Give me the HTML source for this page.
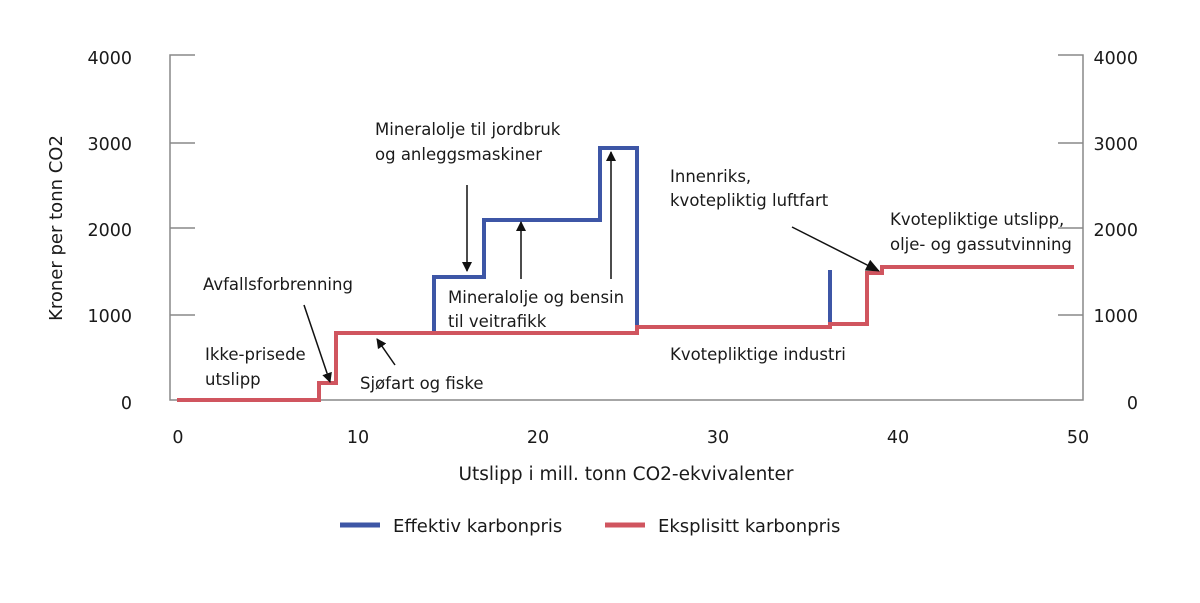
<!DOCTYPE html>
<html><head><meta charset="utf-8"><style>
body{margin:0;background:#fff;}
svg text{font-family:"DejaVu Sans","Liberation Sans",sans-serif;fill:#1a1a1a;}
</style></head><body>
<svg width="1200" height="598" viewBox="0 0 1200 598" xmlns="http://www.w3.org/2000/svg">
<defs><marker id="a" markerWidth="10" markerHeight="10" refX="9" refY="5" orient="auto" markerUnits="userSpaceOnUse" viewBox="0 0 10 10"><path d="M0,0 L10,5 L0,10 z" fill="#111"/></marker>
<marker id="b" markerWidth="14" markerHeight="12" refX="13" refY="6" orient="auto" markerUnits="userSpaceOnUse" viewBox="0 0 14 12"><path d="M0,0 L14,6 L0,12 z" fill="#111"/></marker></defs>
<g stroke="#888" stroke-width="1.5" fill="none">
<path d="M195,55 H170 V400 H1083 V55 H1058"/>
<path d="M170,143 H195 M170,228 H195 M170,315 H195"/>
<path d="M1058,143 H1083 M1058,228 H1083 M1058,315 H1083"/>
</g>
<g font-size="17.5" text-anchor="end">
<text x="132" y="64">4000</text><text x="132" y="150">3000</text><text x="132" y="236">2000</text><text x="132" y="322">1000</text><text x="132" y="409">0</text>
</g>
<g font-size="17.5" text-anchor="end">
<text x="1138" y="64">4000</text><text x="1138" y="150">3000</text><text x="1138" y="236">2000</text><text x="1138" y="322">1000</text><text x="1138" y="409">0</text>
</g>
<g font-size="17.5" text-anchor="middle">
<text x="178" y="443">0</text><text x="358" y="443">10</text><text x="538" y="443">20</text><text x="718" y="443">30</text><text x="898" y="443">40</text><text x="1078" y="443">50</text>
<text x="626" y="480" font-size="18.5">Utslipp i mill. tonn CO2-ekvivalenter</text>
</g>
<text font-size="18" text-anchor="middle" transform="translate(62,228) rotate(-90)">Kroner per tonn CO2</text>
<path d="M434,331 V277 H484 V220 H600 V148 H637 V327" stroke="#3d56a6" stroke-width="4" fill="none"/>
<path d="M830,270 V324" stroke="#3d56a6" stroke-width="4" fill="none"/>
<path d="M177,400 H319 V383 H336 V333 H637 V327 H830 V324 H867 V273 H882 V267 H1074" stroke="#d0555f" stroke-width="4" fill="none"/>
<g stroke="#111" stroke-width="1.5" fill="none">
<line x1="467" y1="185" x2="467" y2="271" marker-end="url(#a)"/>
<line x1="521" y1="279" x2="521" y2="222" marker-end="url(#a)"/>
<line x1="611" y1="279" x2="611" y2="152" marker-end="url(#a)"/>
<line x1="304" y1="305" x2="330" y2="382" marker-end="url(#a)"/>
<line x1="395" y1="365" x2="377" y2="339" marker-end="url(#a)"/>
<line x1="792" y1="227" x2="879" y2="271" marker-end="url(#b)"/>
</g>
<g font-size="16.5">
<text x="375" y="135">Mineralolje til jordbruk</text>
<text x="375" y="160">og anleggsmaskiner</text>
<text x="203" y="290">Avfallsforbrenning</text>
<text x="205" y="360">Ikke-prisede</text>
<text x="205" y="385">utslipp</text>
<text x="448" y="303">Mineralolje og bensin</text>
<text x="448" y="327">til veitrafikk</text>
<text x="360" y="389">Sjøfart og fiske</text>
<text x="670" y="182">Innenriks,</text>
<text x="670" y="206">kvotepliktig luftfart</text>
<text x="890" y="225">Kvotepliktige utslipp,</text>
<text x="890" y="250">olje- og gassutvinning</text>
<text x="670" y="360">Kvotepliktige industri</text>
</g>
<line x1="340" y1="525" x2="380" y2="525" stroke="#3d56a6" stroke-width="5"/>
<text x="393" y="532" font-size="18">Effektiv karbonpris</text>
<line x1="605" y1="525" x2="645" y2="525" stroke="#d0555f" stroke-width="5"/>
<text x="658" y="532" font-size="18">Eksplisitt karbonpris</text>
</svg>
</body></html>
